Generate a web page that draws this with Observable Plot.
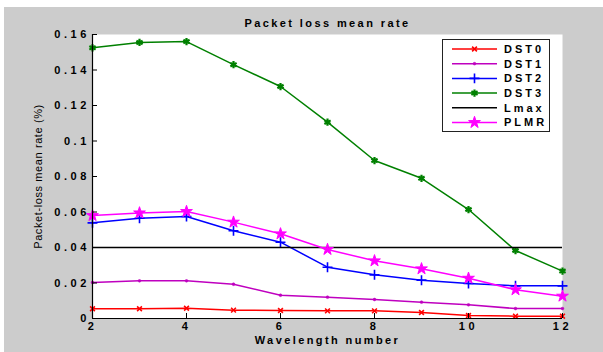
<!DOCTYPE html>
<html>
<head>
<meta charset="utf-8">
<script src="https://cdn.jsdelivr.net/npm/d3@7"></script>
<script src="https://cdn.jsdelivr.net/npm/@observablehq/plot@0.6"></script>
<style>
  html, body { margin: 0; padding: 0; background: #ffffff; }
  #wrap { position: relative; width: 603px; height: 352px; background: #ffffff; overflow: hidden; }
  #chart { position: absolute; left: 4px; top: 7px; width: 599px; height: 345px; background: #cccccc; }
  #chart svg { font-family: "Liberation Sans", Arial, sans-serif; font-weight: bold; font-size: 11px; letter-spacing: 3.6px; color: #000; }
  #legend { position: absolute; left: 442px; top: 39px; width: 106px; height: 91px; border: 1px solid #222; background: #ffffff; }
  #legend svg { position: absolute; left: 0; top: 0; font-family: "Liberation Sans", Arial, sans-serif; font-weight: bold; font-size: 11px; letter-spacing: 3px; }
</style>
</head>
<body>
<div id="wrap">
  <div id="chart"></div>
  <div id="legend"></div>
</div>
<script>
// ---- data ----
const titleText = "Packet loss mean rate";
const xLabel = "Wavelength number";
const yLabel = "Packet-loss mean rate (%)";
const wavelengths = [2, 3, 4, 5, 6, 7, 8, 9, 10, 11, 12];
const dst0 = [0.0055, 0.0055, 0.0058, 0.0047, 0.0045, 0.0043, 0.0043, 0.0034, 0.0017, 0.0013, 0.0013];
const dst1 = [0.0203, 0.0212, 0.0212, 0.0193, 0.0131, 0.0120, 0.0107, 0.0092, 0.0077, 0.0056, 0.0056];
const dst2 = [0.0539, 0.0565, 0.0575, 0.0494, 0.0430, 0.0289, 0.0246, 0.0216, 0.0197, 0.0184, 0.0184];
const dst3 = [0.1525, 0.1555, 0.1560, 0.1430, 0.1307, 0.1106, 0.0890, 0.0790, 0.0614, 0.0383, 0.0267];
const lmax = 0.04;
const plmr = [0.0580, 0.0595, 0.0603, 0.0543, 0.0477, 0.0389, 0.0325, 0.0280, 0.0227, 0.0162, 0.0126];
const seriesNames = ["DST0", "DST1", "DST2", "DST3", "Lmax", "PLMR"];
const xTicks = [2, 4, 6, 8, 10, 12];
const yTicks = [0, 0.02, 0.04, 0.06, 0.08, 0.1, 0.12, 0.14, 0.16];
const yTickLabels = ["0", "0.02", "0.04", "0.06", "0.08", "0.1", "0.12", "0.14", "0.16"];

// ---- styles per series ----
const styles = {
  DST0: {color: "#ff0000", symbol: "times", r: 2.3, fill: "none", sw: 1.6},
  DST1: {color: "#bf00bf", symbol: "circle", r: 1.4, fill: "#bf00bf", sw: 0.5},
  DST2: {color: "#0000ff", symbol: "plus", r: 3.3, fill: "none", sw: 1.6},
  DST3: {color: "#008000", symbol: "asterisk", r: 3.4, fill: "none", sw: 2.2},
  Lmax: {color: "#000000", symbol: null},
  PLMR: {color: "#ff00ff", symbol: "star", r: 3.7, fill: "#ff00ff", sw: 1}
};
const valuesBy = {DST0: dst0, DST1: dst1, DST2: dst2, DST3: dst3, PLMR: plmr};

const W = 599, H = 345, mL = 88, mR = 41, mT = 27, mB = 34;
const innerW = W - mL - mR, innerH = H - mT - mB;

const marks = [Plot.frame({fill: "#ffffff", stroke: "none"})];
for (const name of ["DST0", "DST1", "DST2", "DST3"]) {
  const s = styles[name];
  const rows = wavelengths.map((x, i) => ({x, y: valuesBy[name][i]}));
  marks.push(Plot.line(rows, {x: "x", y: "y", stroke: s.color, strokeWidth: 1.5}));
  marks.push(Plot.dot(rows, {x: "x", y: "y", symbol: () => s.symbol, r: s.r, stroke: s.color, fill: s.fill, strokeWidth: s.sw}));
}
marks.push(Plot.ruleY([lmax], {stroke: "#000", strokeWidth: 1.5}));
{
  const s = styles.PLMR;
  const rows = wavelengths.map((x, i) => ({x, y: plmr[i]}));
  marks.push(Plot.line(rows, {x: "x", y: "y", stroke: s.color, strokeWidth: 1.5}));
  marks.push(Plot.dot(rows, {x: "x", y: "y", symbol: () => s.symbol, r: s.r, stroke: s.color, fill: s.fill, strokeWidth: s.sw}));
}
marks.push(
  Plot.ruleX([wavelengths[0]], {stroke: "#000", strokeWidth: 1.2}),
  Plot.ruleY([0], {stroke: "#000", strokeWidth: 1.2}),
  Plot.tickY(yTicks, {y: d => d, insetRight: innerW - 5, stroke: "#000"}),
  Plot.tickX(xTicks, {x: d => d, insetTop: innerH - 5, stroke: "#000"}),
  Plot.axisY({ticks: yTicks, tickFormat: d => yTickLabels[yTicks.indexOf(d)], tickSize: 0, tickPadding: 2.5, label: null, fontSize: 11}),
  Plot.axisX({ticks: xTicks, tickFormat: d => String(d), tickSize: 0, tickPadding: 4, label: null, fontSize: 11}),
  Plot.text([titleText], {text: d => d, frameAnchor: "top", dy: -11, lineAnchor: "middle", fontWeight: "bold", fontSize: 11}),
  Plot.text([xLabel], {text: d => d, frameAnchor: "bottom", dy: 22, lineAnchor: "middle", fontWeight: "bold", fontSize: 11}),
  Plot.text([yLabel], {text: d => d, frameAnchor: "left", dx: -54, rotate: -90, textAnchor: "middle", lineAnchor: "middle", fontWeight: "normal", fontSize: 11})
);

const chart = Plot.plot({
  width: W, height: H,
  marginLeft: mL, marginRight: mR, marginTop: mT, marginBottom: mB,
  style: {background: "transparent", overflow: "visible"},
  x: {domain: [2, 12]},
  y: {domain: [0, 0.16]},
  marks
});
document.getElementById("chart").appendChild(chart);

// per-text letter spacing
d3.select(chart).selectAll("text").each(function () {
  const t = this.textContent;
  if (t === titleText) this.style.letterSpacing = "2.4px";
  else if (t === xLabel) this.style.letterSpacing = "2.4px";
  else if (t === yLabel) this.style.letterSpacing = "0.6px";
});

// ---- legend ----
const lg = d3.select("#legend").append("svg").attr("width", 106).attr("height", 91);
const symMap = {times: d3.symbolTimes, circle: d3.symbolCircle, plus: d3.symbolPlus, asterisk: d3.symbolAsterisk, star: d3.symbolStar};
seriesNames.forEach((name, i) => {
  const s = styles[name];
  const y = 9 + i * 14.7;
  lg.append("line").attr("x1", 9).attr("x2", 54).attr("y1", y).attr("y2", y)
    .attr("stroke", s.color).attr("stroke-width", 1.5);
  if (s.symbol) {
    lg.append("path")
      .attr("d", d3.symbol(symMap[s.symbol], Math.PI * s.r * s.r)())
      .attr("transform", `translate(31.5,${y})`)
      .attr("fill", s.fill).attr("stroke", s.color).attr("stroke-width", s.sw);
  }
  lg.append("text").attr("x", 61).attr("y", y).attr("dy", "0.36em").text(name);
});
</script>
</body>
</html>
